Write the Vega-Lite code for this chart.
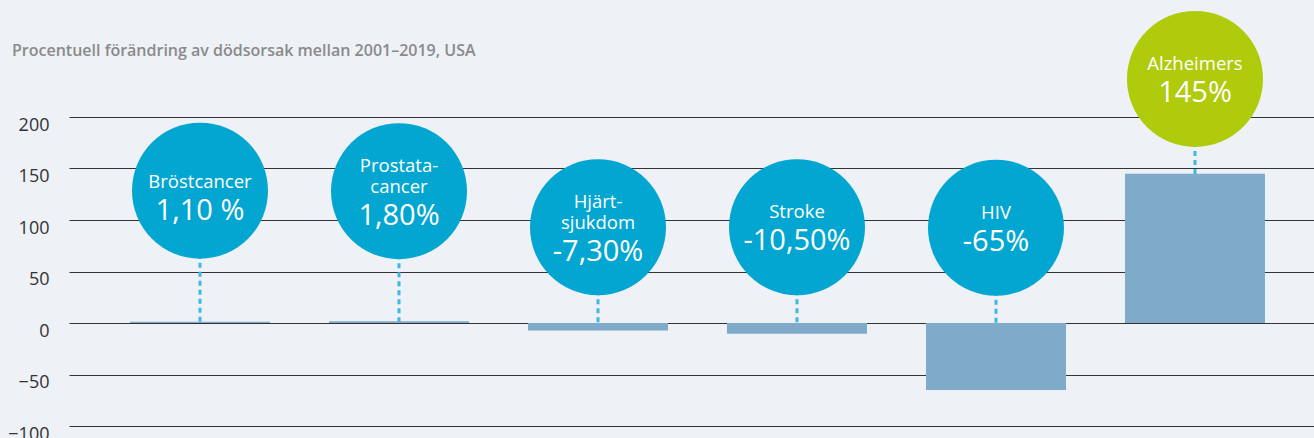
{
  "$schema": "https://vega.github.io/schema/vega-lite/v6.json",
  "autosize": "none",
  "width": 1245,
  "height": 309,
  "padding": {"left": 69, "top": 117, "right": 0, "bottom": 12},
  "background": "#eef1f6",
  "title": {
    "text": "Procentuell förändring av dödsorsak mellan 2001–2019, USA",
    "anchor": "start",
    "frame": "group",
    "dx": -57,
    "offset": -61,
    "baseline": "alphabetic",
    "font": "Open Sans",
    "fontSize": 16,
    "fontWeight": 600,
    "color": "#8a8a8a"
  },
  "config": {
    "view": {"stroke": null},
    "font": "Open Sans"
  },
  "data": {
    "values": [
      {"orsak": "Bröstcancer", "etikett": "Bröstcancer", "procent": "1,10 %", "forandring": 1.1, "cirkel": 128.5, "grupp": "övriga", "rader": 0},
      {"orsak": "Prostatacancer", "etikett": "Prostata-\ncancer", "procent": "1,80%", "forandring": 1.8, "cirkel": 128, "grupp": "övriga", "rader": 2},
      {"orsak": "Hjärtsjukdom", "etikett": "Hjärt-\nsjukdom", "procent": "-7,30%", "forandring": -7.3, "cirkel": 93, "grupp": "övriga", "rader": 2},
      {"orsak": "Stroke", "etikett": "Stroke", "procent": "-10,50%", "forandring": -10.5, "cirkel": 93, "grupp": "övriga", "rader": 1},
      {"orsak": "HIV", "etikett": "HIV", "procent": "-65%", "forandring": -65, "cirkel": 92.5, "grupp": "övriga", "rader": 1},
      {"orsak": "Alzheimers", "etikett": "Alzheimers", "procent": "145%", "forandring": 145, "cirkel": 237, "grupp": "Alzheimers", "rader": 1}
    ]
  },
  "encoding": {
    "x": {
      "field": "orsak",
      "type": "nominal",
      "sort": null,
      "scale": {"paddingInner": 0.2965, "paddingOuter": 0.2764, "align": 0.5545},
      "axis": null
    }
  },
  "layer": [
    {
      "mark": {"type": "rule", "color": "#3cb9e2", "strokeWidth": 3, "strokeDash": [5, 4]},
      "encoding": {
        "y": {"field": "cirkel", "type": "quantitative"},
        "y2": {"datum": 0}
      }
    },
    {
      "mark": {"type": "bar", "color": "#7faac9"},
      "encoding": {
        "y": {
          "field": "forandring",
          "type": "quantitative",
          "scale": {"domain": [-100, 200], "nice": false, "zero": false},
          "axis": {
            "title": null,
            "values": [-100, -50, 0, 50, 100, 150, 200],
            "domain": false,
            "ticks": false,
            "tickSize": 0,
            "labelPadding": 20,
            "labelBaseline": "top",
            "labelOffset": -1,
            "labelFont": "Open Sans",
            "labelFontSize": 18,
            "labelColor": "#333333",
            "grid": true,
            "gridColor": "#333333",
            "gridWidth": 1,
            "gridOpacity": 1
          }
        },
        "y2": {"datum": 0}
      }
    },
    {
      "mark": {"type": "point", "shape": "circle", "filled": true, "opacity": 1, "size": 18496, "strokeWidth": 0},
      "encoding": {
        "y": {"field": "cirkel", "type": "quantitative"},
        "color": {
          "field": "grupp",
          "type": "nominal",
          "scale": {"domain": ["övriga", "Alzheimers"], "range": ["#02a6d1", "#b0ca0c"]},
          "legend": null
        }
      }
    },
    {
      "transform": [{"filter": "datum.rader === 1"}],
      "mark": {"type": "text", "color": "white", "fontSize": 18.5, "align": "center", "baseline": "alphabetic", "dy": -9},
      "encoding": {
        "y": {"field": "cirkel", "type": "quantitative"},
        "text": {"field": "etikett"}
      }
    },
    {
      "transform": [{"filter": "datum.rader === 0"}],
      "mark": {"type": "text", "color": "white", "fontSize": 18.5, "align": "center", "baseline": "alphabetic", "dy": -3},
      "encoding": {
        "y": {"field": "cirkel", "type": "quantitative"},
        "text": {"field": "etikett"}
      }
    },
    {
      "transform": [{"filter": "datum.rader === 2"}],
      "mark": {"type": "text", "color": "white", "fontSize": 18.5, "lineHeight": 20.5, "lineBreak": "\n", "align": "center", "baseline": "alphabetic", "dy": -19},
      "encoding": {
        "y": {"field": "cirkel", "type": "quantitative"},
        "text": {"field": "etikett"}
      }
    },
    {
      "transform": [{"filter": "datum.rader === 1"}],
      "mark": {"type": "text", "color": "white", "fontSize": 29, "align": "center", "baseline": "alphabetic", "dy": 23},
      "encoding": {
        "y": {"field": "cirkel", "type": "quantitative"},
        "text": {"field": "procent"}
      }
    },
    {
      "transform": [{"filter": "datum.rader === 0"}],
      "mark": {"type": "text", "color": "white", "fontSize": 29, "align": "center", "baseline": "alphabetic", "dy": 29},
      "encoding": {
        "y": {"field": "cirkel", "type": "quantitative"},
        "text": {"field": "procent"}
      }
    },
    {
      "transform": [{"filter": "datum.rader === 2"}],
      "mark": {"type": "text", "color": "white", "fontSize": 29, "align": "center", "baseline": "alphabetic", "dy": 34},
      "encoding": {
        "y": {"field": "cirkel", "type": "quantitative"},
        "text": {"field": "procent"}
      }
    }
  ]
}
